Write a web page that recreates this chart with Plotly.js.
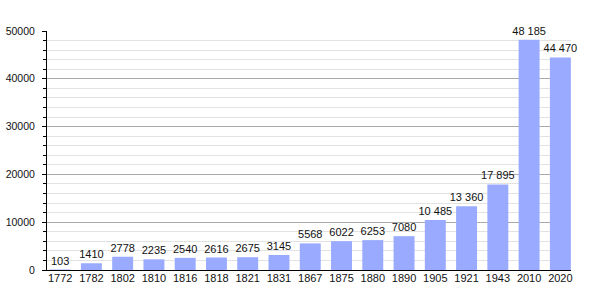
<!DOCTYPE html>
<html><head><meta charset="utf-8">
<script src="https://cdn.plot.ly/plotly-3.0.1.min.js"></script>
<style>html,body{margin:0;padding:0;background:#fff}</style>
</head><body><div id="chart" style="width:600px;height:300px"></div>
<script>
const years = ['1772','1782','1802','1810','1816','1818','1821','1831','1867','1875','1880','1890','1905','1921','1943','2010','2020'];
const population = [103,1410,2778,2235,2540,2616,2675,3145,5568,6022,6253,7080,10485,13360,17895,48185,44470];
const labels = ['103','1410','2778','2235','2540','2616','2675','3145','5568','6022','6253','7080','10 485','13 360','17 895','48 185','44 470'];
const yTicks = [0,10000,20000,30000,40000,50000];

Plotly.newPlot('chart', [{
  type: 'bar',
  x: years,
  y: population,
  text: labels,
  textposition: 'outside',
  constraintext: 'none',
  textfont: {family: 'Liberation Sans, Arial, sans-serif', size: 11, color: '#111'},
  cliponaxis: false,
  marker: {color: '#99aaff'},
  hoverinfo: 'none'
}], {
  width: 600, height: 300,
  margin: {l: 47, r: 29, t: 31, b: 30},
  paper_bgcolor: '#fff', plot_bgcolor: '#fff',
  bargap: 0.33,
  showlegend: false,
  font: {family: 'Liberation Sans, Arial, sans-serif', size: 11, color: '#111'},
  xaxis: {
    type: 'category',
    range: [-0.42, 16.34],
    showline: true, linecolor: '#000', linewidth: 1,
    ticks: '', showgrid: false,
    ticklabelstandoff: -2,
    tickfont: {size: 11, color: '#111'}
  },
  yaxis: {
    range: [0, 50000],
    tickmode: 'array', tickvals: yTicks, ticktext: yTicks.map(String),
    showline: true, linecolor: '#000', linewidth: 1,
    ticks: 'outside', ticklen: 4, tickcolor: '#000',
    showgrid: true, gridcolor: '#aaaaaa', gridwidth: 1,
    zeroline: false,
    tickfont: {size: 10.5, color: '#111'},
    ticklabelstandoff: 5,
    minor: {dtick: 2000, ticks: 'outside', ticklen: 3, tickcolor: '#000', showgrid: true, gridcolor: '#e2e2e2', gridwidth: 1}
  }
}, {staticPlot: true, displayModeBar: false});
</script></body></html>
